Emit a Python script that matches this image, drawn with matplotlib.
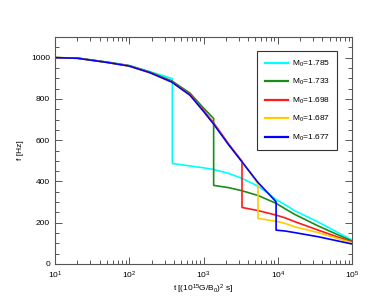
import matplotlib
matplotlib.use("Agg")
import matplotlib.pyplot as plt
from matplotlib.ticker import LogLocator, MultipleLocator, NullFormatter

plt.rcParams['font.family'] = ['Liberation Sans', 'DejaVu Sans']
plt.rcParams['mathtext.fontset'] = 'custom'
plt.rcParams['mathtext.rm'] = 'Liberation Sans'
plt.rcParams['mathtext.it'] = 'Liberation Sans'

labels = ["M$_0$=1.785", "M$_0$=1.733", "M$_0$=1.698", "M$_0$=1.687", "M$_0$=1.677"]
colors = ["#00ffff", "#1a8c1a", "#ff1a1a", "#ffcc00", "#0000ff"]

t_cyan = [10, 20, 50, 100, 190, 380, 380, 1000, 1370, 2180, 3300, 5420, 7460, 9500, 12500, 17000, 35200, 100000]
f_cyan = [1000, 998, 979, 962, 932, 898, 487, 466, 458, 439, 415, 377, 342, 312, 288, 258, 203, 116]

t_green = [10, 20, 50, 100, 190, 372, 658, 1000, 1370, 1370, 2180, 3300, 5420, 9500, 12500, 17000, 35200, 100000]
f_green = [1000, 998, 978, 961, 930, 888, 828, 756, 705, 381, 370, 355, 332, 294, 268, 240, 184, 111]

t_red = [10, 20, 50, 100, 190, 372, 658, 1000, 1370, 2180, 3300, 3300, 5420, 9500, 12500, 17000, 35200, 100000]
f_red = [1000, 997, 977, 960, 928, 884, 821, 745, 684, 582, 498, 274, 259, 237, 224, 205, 164, 106]

t_yellow = [10, 20, 50, 100, 190, 372, 658, 1000, 1370, 2180, 3300, 5420, 5420, 9500, 12500, 17000, 35200, 100000]
f_yellow = [1000, 997, 977, 959, 927, 882, 818, 740, 678, 578, 495, 388, 221, 207, 197, 180, 152, 103]

t_blue = [10, 20, 50, 100, 190, 372, 658, 1000, 1370, 2180, 3300, 5420, 7460, 9500, 9500, 12500, 17000, 35200, 100000]
f_blue = [1000, 997, 977, 959, 927, 882, 818, 740, 678, 578, 495, 395, 342, 301, 164, 160, 152, 132, 97]

series_t = [t_cyan, t_green, t_red, t_yellow, t_blue]
series_f = [f_cyan, f_green, f_red, f_yellow, f_blue]

fig = plt.figure(figsize=(3.82, 3.06), dpi=100)
ax = fig.add_axes([55/382, 1-264/306, 297/382, 227/306])

for t, f, c, lab in zip(series_t, series_f, colors, labels):
    ax.plot(t, f, color=c, lw=1.2, label=lab)

ax.set_xscale('log')
ax.set_xlim(10, 1e5)
ax.set_ylim(0, 1100)
ax.xaxis.set_major_locator(LogLocator(base=10, numticks=10))
ax.xaxis.set_minor_locator(LogLocator(base=10, subs=range(2, 10), numticks=20))
ax.xaxis.set_minor_formatter(NullFormatter())
ax.yaxis.set_major_locator(MultipleLocator(200))
ax.yaxis.set_minor_locator(MultipleLocator(50))

spine_c = '#555555'
for s in ax.spines.values():
    s.set_color(spine_c)
    s.set_linewidth(0.8)
ax.tick_params(which='both', direction='in', top=True, right=True, colors=spine_c,
               labelcolor='black', labelsize=6, width=0.7)
ax.tick_params(which='major', length=5)
ax.tick_params(which='minor', length=3)
ax.tick_params(axis='x', pad=4)

ax.set_xlabel("t [(10$^{15}$G/B$_0$)$^2$ s]", fontsize=6, labelpad=1)
ax.set_ylabel("f [Hz]", fontsize=6, labelpad=10)
ax.yaxis.set_label_coords(-0.105, 0.5)

leg = ax.legend(loc='upper right', bbox_to_anchor=(0.950, 0.938), fontsize=6,
                fancybox=False, framealpha=1, edgecolor='#333333',
                handlelength=2.8, labelspacing=1.0, borderpad=0.9,
                handletextpad=0.4, borderaxespad=0)
leg.get_frame().set_linewidth(0.8)
for h in leg.legend_handles:
    h.set_linewidth(1.6)

fig.savefig("out.png", dpi=100)
